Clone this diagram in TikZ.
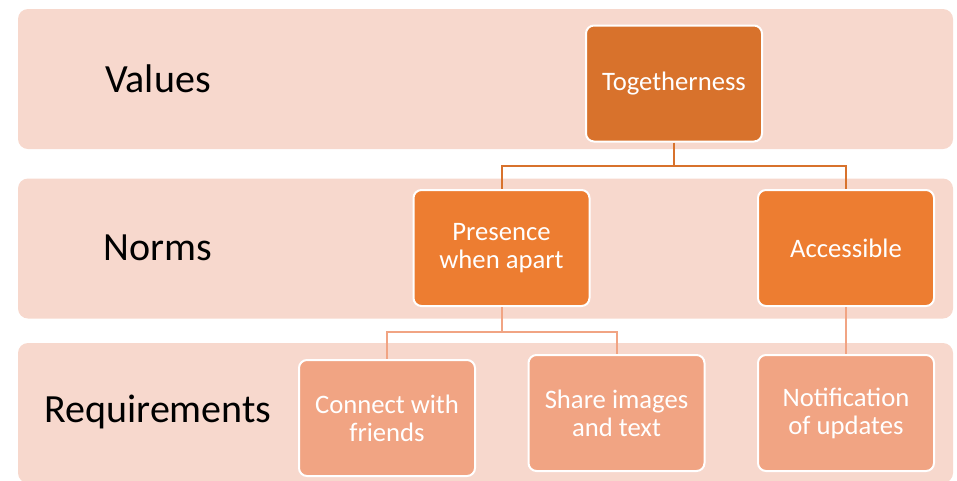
\documentclass[tikz,border=0pt]{standalone}
\usepackage{fontspec}
\setmainfont{Carlito}
\usetikzlibrary{positioning}

\definecolor{bandfill}{HTML}{F7D8CD}
\definecolor{topfill}{HTML}{D8722C}
\definecolor{midfill}{HTML}{ED7D31}
\definecolor{lowfill}{HTML}{F1A483}

\tikzset{
  band/.style={fill=bandfill, rounded corners=7.5pt,
    minimum width=701.25pt, minimum height=105pt},
  tier/.style={font=\fontsize{30}{34}\selectfont, text=black},
  box/.style={draw=white, line width=1.5pt, rounded corners=6pt,
    minimum width=132pt, minimum height=87pt, align=center,
    text=white, font=\fontsize{20}{21}\selectfont},
  link/.style={line width=1.5pt}
}

\begin{document}
\begin{tikzpicture}[x=0.75pt, y=-0.75pt]
\clip (0,0) rectangle (957,480);

% level bands
\node[band] (b1) at (485.5,79) {};
\node[band] (b2) at (485.5,248.5) {};
\node[band] (b3) at (485.5,413) {};

\node[tier] (values) at (158,79) {Values};
\node[tier] (norms) at (158,248) {Norms};
\node[tier] (reqs) at (158,412) {Requirements};

% boxes
\node[box, fill=topfill] (tog) at (674,83.5) {Togetherness};
\node[box, fill=midfill] (pres) at (501.5,248) {Presence\\when apart};
\node[box, fill=midfill] (acc) at (846,248) {Accessible};
\node[box, fill=lowfill] (conn) at (387,418) {Connect with\\friends};
\node[box, fill=lowfill] (share) at (616.5,413) {Share images\\and text};
\node[box, fill=lowfill] (notif) at (846,413) {Notification\\of updates};

\coordinate (j1) at (674,166);
\coordinate (j2) at (501.5,332);

\draw[link, topfill] (tog.south) -- (j1) -| (pres.north);
\draw[link, topfill] (j1) -| (acc.north);
\draw[link, lowfill] (pres.south) -- (j2) -| (conn.north);
\draw[link, lowfill] (j2) -| (share.north);
\draw[link, lowfill] (acc.south) -- (notif.north);
\end{tikzpicture}
\end{document}
